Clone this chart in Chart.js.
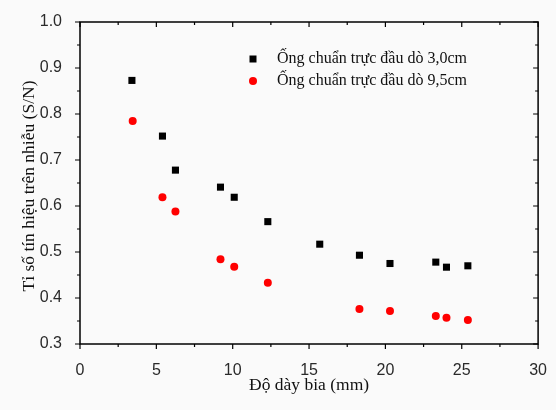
<!DOCTYPE html>
<html>
<head>
<meta charset="utf-8">
<script src="https://cdn.jsdelivr.net/npm/chart.js@4/dist/chart.umd.min.js"></script>
<style>
  html, body { margin: 0; padding: 0; background: #fafafa; }
  #wrap { width: 556px; height: 410px; }
</style>
</head>
<body>
<div id="wrap"><canvas id="chart" width="556" height="410"></canvas></div>
<script>
// thickness (mm) and S/N values
const thick30 = [3.4, 5.4, 6.25, 9.2, 10.1, 12.3, 15.7, 18.3, 20.3, 23.3, 24.0, 25.4]
const sn30 = [0.873, 0.752, 0.678, 0.641, 0.619, 0.566, 0.517, 0.493, 0.475, 0.478, 0.467, 0.470]
const thick95 = [3.45, 5.4, 6.25, 9.2, 10.1, 12.3, 18.3, 20.3, 23.3, 24.0, 25.4]
const sn95 = [0.785, 0.619, 0.588, 0.484, 0.468, 0.433, 0.376, 0.372, 0.361, 0.357, 0.352]

const labels = ['Ống chuẩn trực đầu dò 3,0cm', 'Ống chuẩn trực đầu dò 9,5cm']
const xTitle = 'Độ dày bia (mm)'
const yTitle = 'Tỉ số tín hiệu trên nhiễu (S/N)'

const toPoints = (xs, ys) => xs.map((x, i) => ({ x, y: ys[i] }))

const serif = '"Liberation Serif", "Times New Roman", serif'
const sans = 'Arial, "Liberation Sans", sans-serif'

const decorations = {
  id: 'decorations',
  beforeDraw(chart) {
    const { ctx, width, height } = chart
    ctx.save()
    ctx.fillStyle = '#fafafa'
    ctx.fillRect(0, 0, width, height)
    ctx.restore()
  },
  afterDraw(chart) {
    const { ctx, chartArea: a, scales: { x, y } } = chart
    ctx.save()
    ctx.strokeStyle = '#000'
    ctx.lineWidth = 1.5
    ctx.strokeRect(a.left, a.top, a.right - a.left, a.bottom - a.top)

    ctx.lineWidth = 1.2
    ctx.beginPath()
    for (let v = 0; v <= 30; v += 2.5) {
      const px = x.getPixelForValue(v)
      const len = v % 5 === 0 ? 5 : 3
      ctx.moveTo(px, a.bottom); ctx.lineTo(px, a.bottom + len)
      ctx.moveTo(px, a.top); ctx.lineTo(px, a.top + len)
    }
    for (let i = 0; i <= 14; i++) {
      const v = 0.3 + i * 0.05
      const py = y.getPixelForValue(v)
      const len = i % 2 === 0 ? 5 : 3
      ctx.moveTo(a.left, py); ctx.lineTo(a.left - len, py)
      ctx.moveTo(a.right, py); ctx.lineTo(a.right - len, py)
    }
    ctx.stroke()

    // axis titles
    ctx.fillStyle = '#111'
    ctx.font = '17.5px ' + serif
    ctx.textAlign = 'center'
    ctx.textBaseline = 'middle'
    ctx.fillText(xTitle, (a.left + a.right) / 2, 385)
    ctx.translate(29, 186)
    ctx.rotate(-Math.PI / 2)
    ctx.fillText(yTitle, 0, 0)
    ctx.setTransform(1, 0, 0, 1, 0, 0)

    // legend
    const lx = 253, ly = [59, 81]
    ctx.fillStyle = '#000'
    ctx.fillRect(lx - 3.5, ly[0] - 3.5, 7, 7)
    ctx.fillStyle = '#f00'
    ctx.beginPath()
    ctx.arc(lx, ly[1], 4, 0, Math.PI * 2)
    ctx.fill()
    ctx.fillStyle = '#111'
    ctx.font = '16px ' + serif
    ctx.textAlign = 'left'
    labels.forEach((t, i) => ctx.fillText(t, 277, ly[i]))
    ctx.restore()
  }
}

new Chart(document.getElementById('chart'), {
  type: 'scatter',
  data: {
    datasets: [
      { label: labels[0], data: toPoints(thick30, sn30), pointStyle: 'rect', pointRadius: 5, backgroundColor: '#000', borderColor: '#000', borderWidth: 0 },
      { label: labels[1], data: toPoints(thick95, sn95), pointStyle: 'circle', pointRadius: 4, backgroundColor: '#f00', borderColor: '#f00', borderWidth: 0 },
    ],
  },
  options: {
    responsive: false,
    animation: false,
    layout: { padding: { left: 0, right: 15, top: 22, bottom: 0 } },
    plugins: { legend: { display: false }, tooltip: { enabled: false } },
    scales: {
      x: {
        type: 'linear', min: 0, max: 30,
        grid: { display: false },
        border: { display: false },
        afterFit: scale => { scale.height = 66 },
        ticks: { stepSize: 5, padding: 9, color: '#2a2a2a', font: { family: sans, size: 16 } },
      },
      y: {
        type: 'linear', min: 0.3, max: 1.0,
        grid: { display: false },
        border: { display: false },
        afterFit: scale => { scale.width = 80 },
        ticks: { stepSize: 0.1, padding: 10, color: '#2a2a2a', callback: v => v.toFixed(1), font: { family: sans, size: 16 } },
      },
    },
  },
  plugins: [decorations],
})
</script>
</body>
</html>
